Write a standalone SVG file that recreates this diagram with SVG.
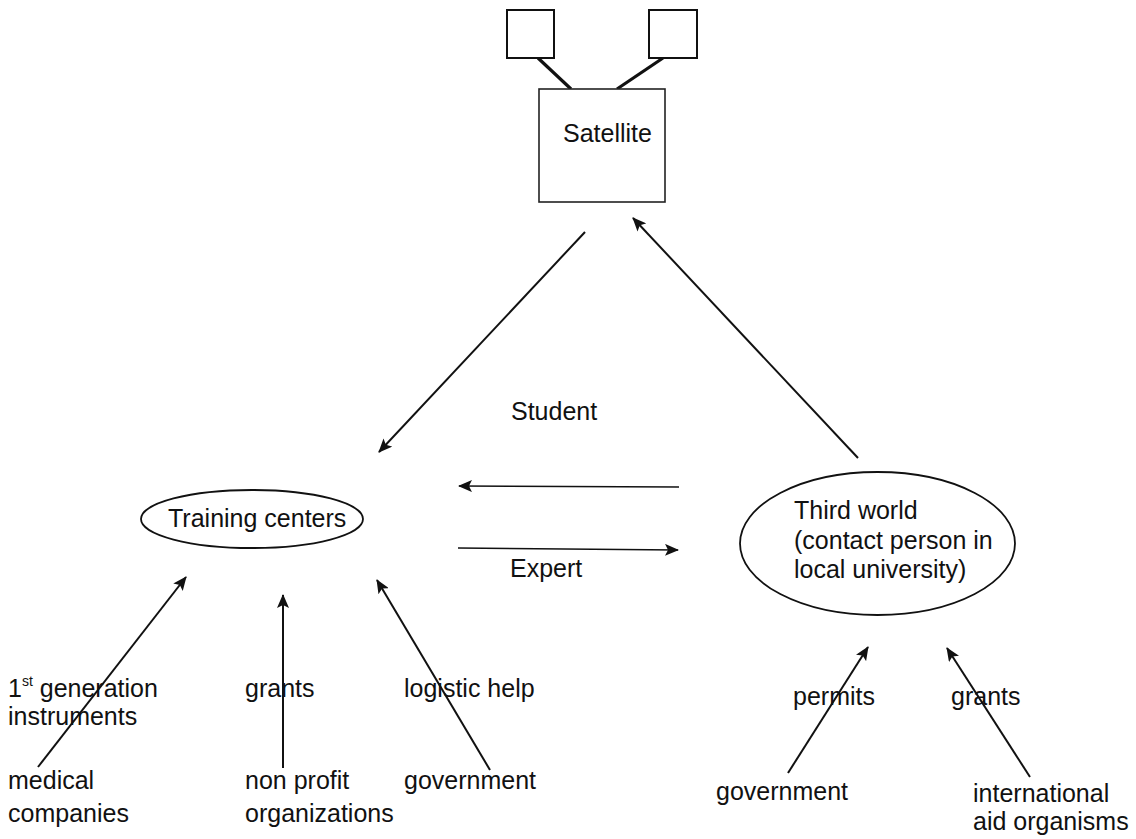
<svg xmlns="http://www.w3.org/2000/svg" width="1136" height="839" viewBox="0 0 1136 839">
<defs>
<marker id="ah" markerUnits="userSpaceOnUse" markerWidth="14" markerHeight="12" viewBox="0 0 14 12" refX="13" refY="6" orient="auto">
<path d="M0,0 L14,6 L0,12 L3,6 Z" fill="#111"/>
</marker>
<style>
text{font-family:"Liberation Sans",Arial,sans-serif;font-size:25px;fill:#111}
.box{fill:#fff;stroke:#222;stroke-width:1.6}
.sq{fill:#fff;stroke:#111;stroke-width:2}
.link{stroke:#111;stroke-width:3.2;fill:none}
.ell{fill:#fff;stroke:#111;stroke-width:1.8}
.arr{stroke:#111;stroke-width:2;fill:none;marker-end:url(#ah)}
.thin{stroke:#111;stroke-width:1.4;fill:none;marker-end:url(#ah)}
.sup{font-size:14px}
</style>
</defs>
<rect width="1136" height="839" fill="#fff"/>
<g id="connectors">
<line class="link" x1="538" y1="58" x2="571" y2="89"/>
<line class="link" x1="663" y1="58" x2="617" y2="89"/>
<line class="arr" x1="585" y1="232" x2="379" y2="452"/>
<line class="arr" x1="858" y1="458" x2="633" y2="218"/>
<line class="thin" x1="679" y1="487" x2="459" y2="486"/>
<line class="thin" x1="458" y1="548" x2="678" y2="550"/>
<line class="arr" x1="38" y1="767" x2="186" y2="577"/>
<line class="arr" x1="283" y1="768" x2="283" y2="595"/>
<line class="arr" x1="490" y1="770" x2="377" y2="580"/>
<line class="arr" x1="788" y1="773" x2="868" y2="647"/>
<line class="arr" x1="1030" y1="777" x2="947" y2="648"/>
</g>
<g id="antenna-left"><rect class="sq" x="507" y="10" width="47" height="48"/></g>
<g id="antenna-right"><rect class="sq" x="649" y="10" width="48" height="48"/></g>
<g id="satellite">
<rect class="box" x="539" y="89" width="126" height="113"/>
<text x="563" y="142">Satellite</text>
</g>
<g id="training-centers">
<ellipse class="ell" cx="252" cy="519" rx="111" ry="29"/>
<text x="168" y="527">Training centers</text>
</g>
<g id="third-world">
<ellipse class="ell" cx="877.5" cy="543.5" rx="137.5" ry="71.5"/>
<text x="794" y="519">Third world</text>
<text x="794" y="549">(contact person in</text>
<text x="794" y="578">local university)</text>
</g>
<g id="labels-flow">
<text x="511" y="420">Student</text>
<text x="510" y="577">Expert</text>
</g>
<g id="medical-companies">
<text x="8" y="697">1<tspan class="sup" dy="-11">st</tspan><tspan dy="11"> generation</tspan></text>
<text x="8" y="725">instruments</text>
<text x="8" y="789">medical</text>
<text x="8" y="822">companies</text>
</g>
<g id="non-profit">
<text x="245" y="697">grants</text>
<text x="245" y="789">non profit</text>
<text x="245" y="822">organizations</text>
</g>
<g id="government-left">
<text x="404" y="697">logistic help</text>
<text x="404" y="789">government</text>
</g>
<g id="government-right">
<text x="793" y="705">permits</text>
<text x="716" y="800">government</text>
</g>
<g id="aid-organisms">
<text x="951" y="705">grants</text>
<text x="973" y="802">international</text>
<text x="973" y="830">aid organisms</text>
</g>
</svg>
